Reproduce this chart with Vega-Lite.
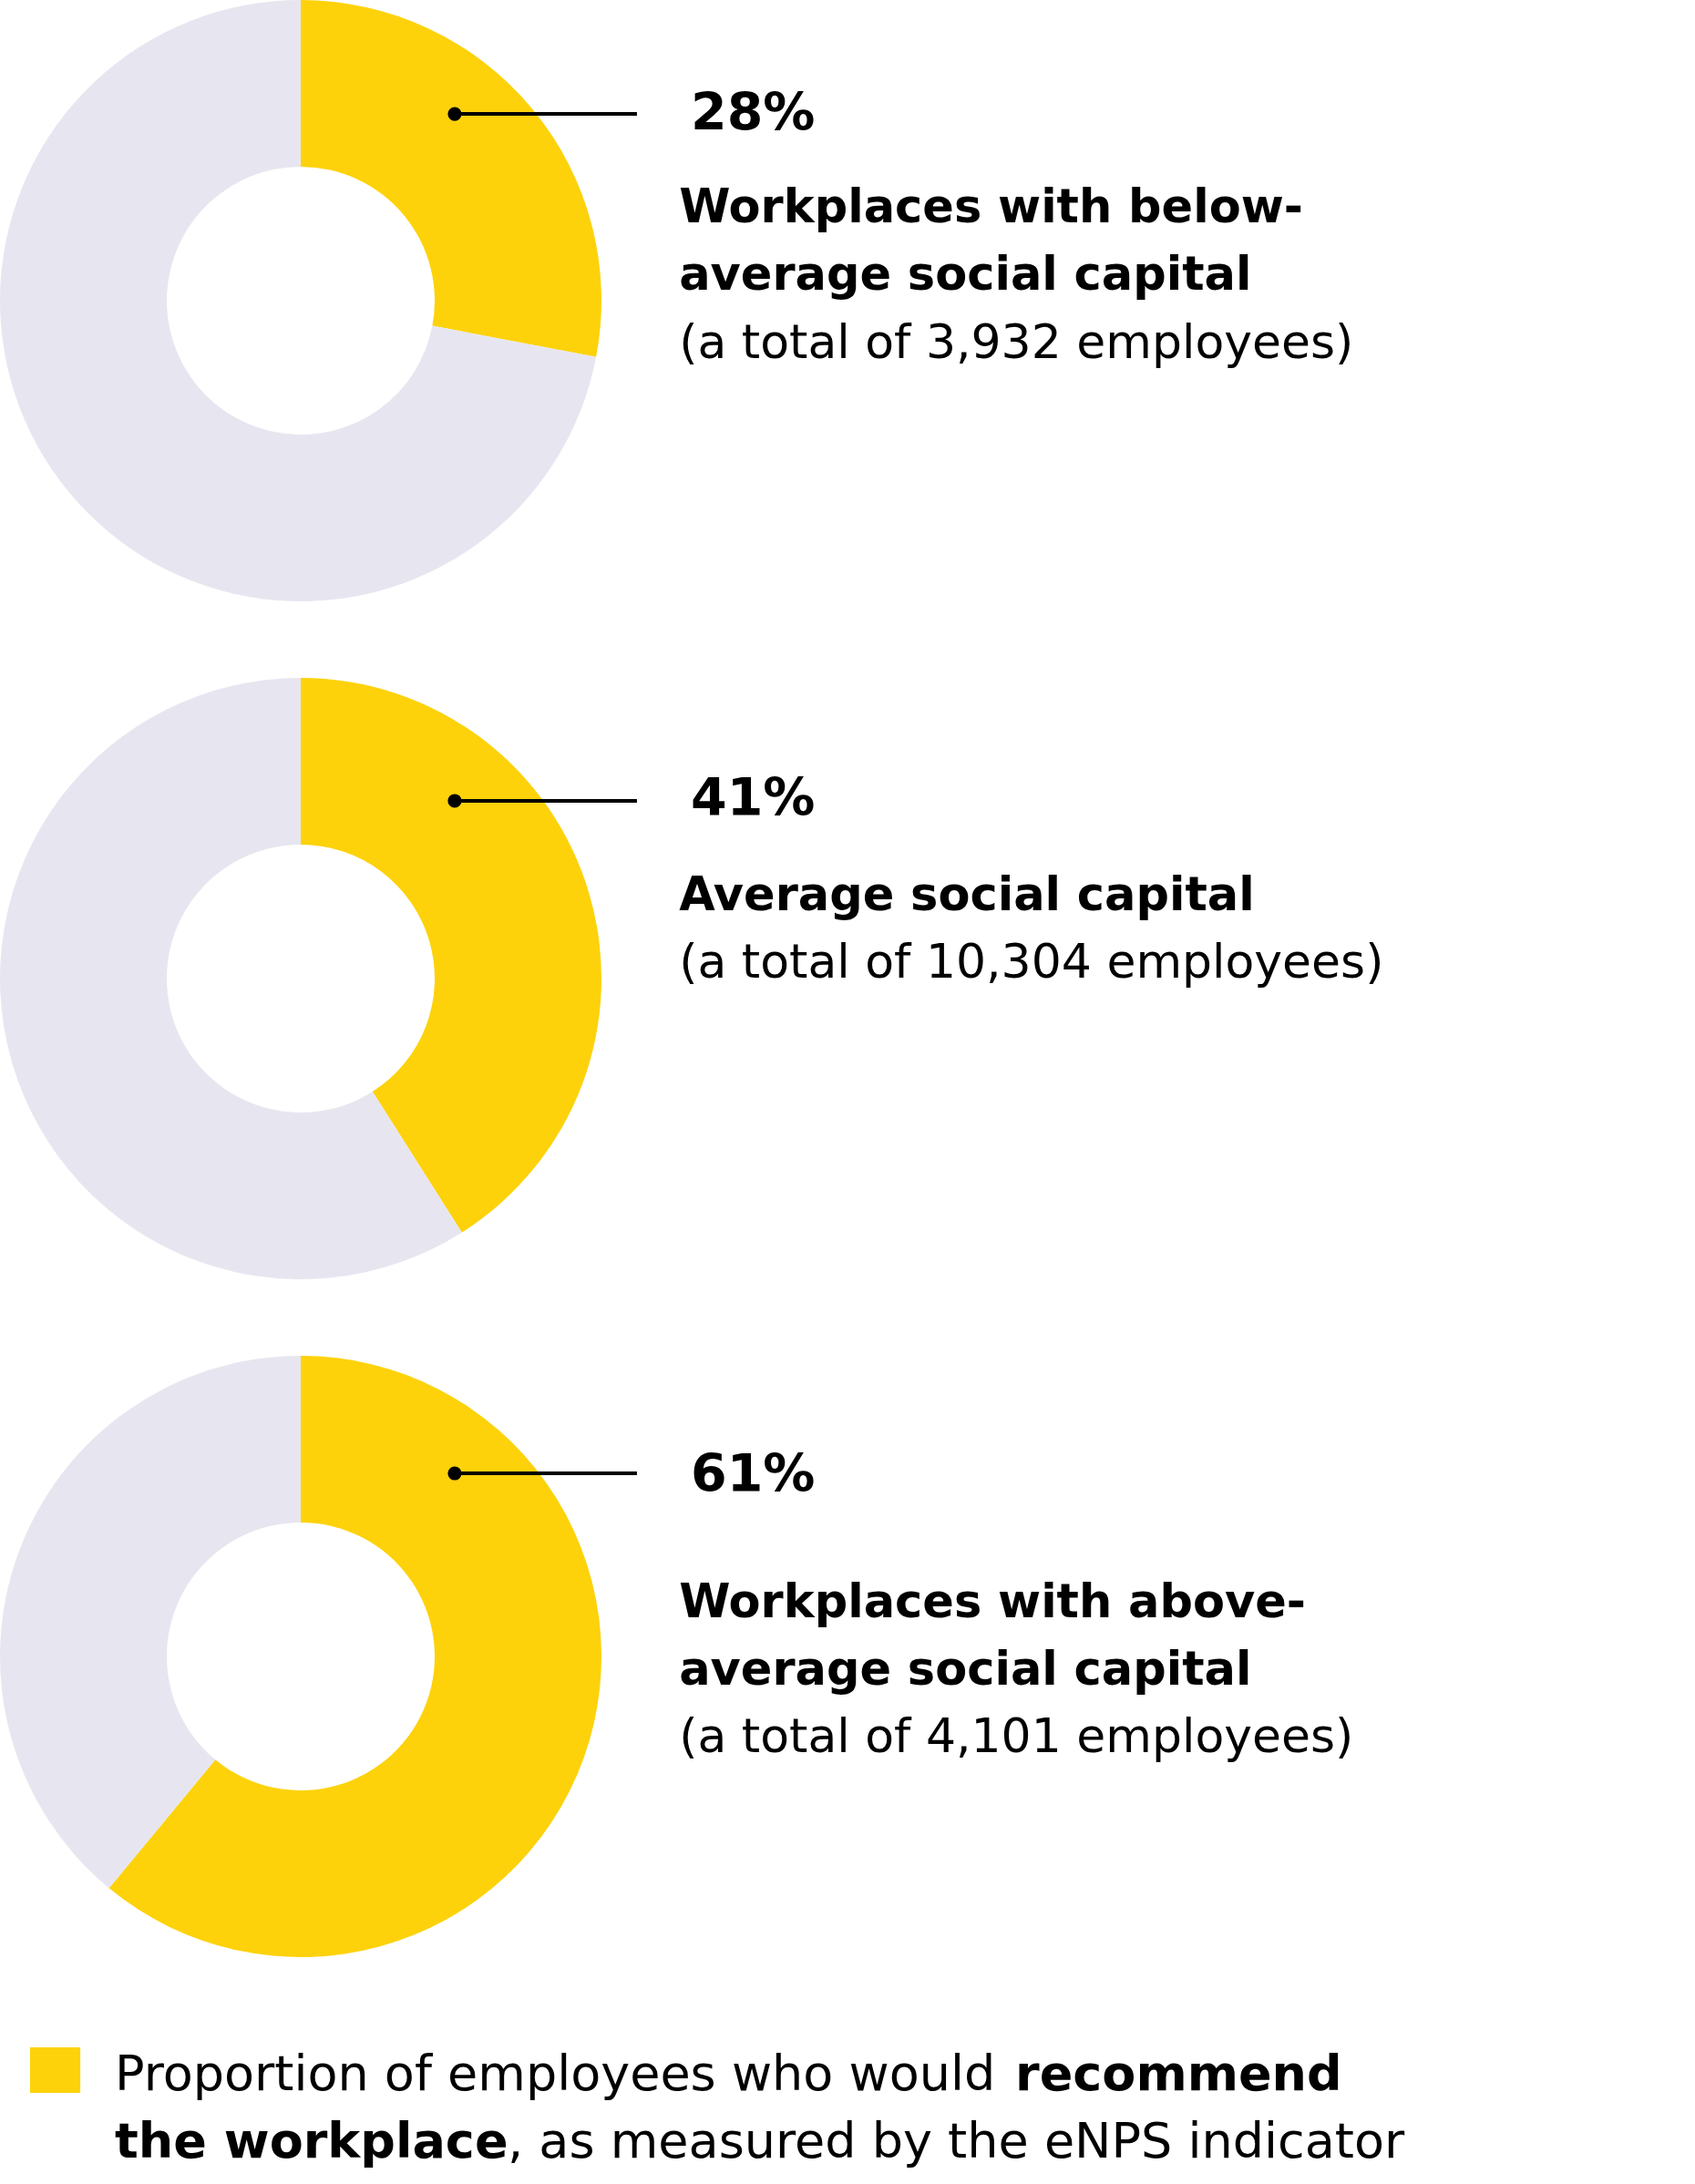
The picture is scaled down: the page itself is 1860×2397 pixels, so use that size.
{
  "$schema": "https://vega.github.io/schema/vega-lite/v6.json",
  "padding": 0,
  "background": "white",
  "spacing": 84,
  "datasets": {
    "donuts": [
      {"group": "below", "part": "recommend", "share": 28},
      {"group": "below", "part": "rest", "share": 72},
      {"group": "average", "part": "recommend", "share": 41},
      {"group": "average", "part": "rest", "share": 59},
      {"group": "above", "part": "recommend", "share": 61},
      {"group": "above", "part": "rest", "share": 39}
    ],
    "labels": [
      {"group": "below", "pct": "28%", "title": "Workplaces with below-\naverage social capital", "note": "(a total of 3,932 employees)"},
      {"group": "average", "pct": "41%", "title": "Average social capital", "note": "(a total of 10,304 employees)"},
      {"group": "above", "pct": "61%", "title": "Workplaces with above-\naverage social capital", "note": "(a total of 4,101 employees)"}
    ],
    "legend": [
      {"plain1": "Proportion of employees who would", "bold1": "recommend", "bold2": "the workplace", "plain2": ", as measured by the eNPS indicator"}
    ]
  },
  "vconcat": [
    {
      "width": 1650,
      "height": 660,
      "layer": [
        {
          "data": {"name": "donuts"},
          "transform": [{"filter": "datum.group === 'below'"}],
          "mark": {"type": "arc", "innerRadius": 147, "outerRadius": 330},
          "encoding": {
            "theta": {"field": "share", "type": "quantitative", "stack": true},
            "color": {"field": "part", "type": "nominal", "scale": {"domain": ["recommend", "rest"], "range": ["#FDD20A", "#E7E6F0"]}, "legend": null},
            "order": {"field": "part"},
            "x": {"datum": 0, "type": "quantitative", "scale": {"domain": [-1, 4], "nice": false, "zero": false}, "axis": null},
            "y": {"datum": 0, "type": "quantitative", "scale": {"domain": [-1, 1], "nice": false, "zero": false}, "axis": null}
          }
        },
        {
          "data": {"name": "labels"},
          "transform": [{"filter": "datum.group === 'below'"}],
          "mark": {"type": "rule", "color": "#000000", "strokeWidth": 4},
          "encoding": {
            "x": {"datum": 0.512, "type": "quantitative"},
            "x2": {"datum": 1.118},
            "y": {"datum": 0.621, "type": "quantitative"}
          }
        },
        {
          "data": {"name": "labels"},
          "transform": [{"filter": "datum.group === 'below'"}],
          "mark": {"type": "circle", "color": "#000000", "opacity": 1, "size": 230},
          "encoding": {
            "x": {"datum": 0.512, "type": "quantitative"},
            "y": {"datum": 0.621, "type": "quantitative"}
          }
        },
        {
          "data": {"name": "labels"},
          "transform": [{"filter": "datum.group === 'below'"}],
          "mark": {"type": "text", "align": "left", "baseline": "alphabetic", "font": "DejaVu Sans", "fontWeight": "bold", "fontSize": 57, "color": "#000000"},
          "encoding": {
            "x": {"datum": 1.297, "type": "quantitative"},
            "y": {"datum": 0.567, "type": "quantitative"},
            "text": {"field": "pct"}
          }
        },
        {
          "data": {"name": "labels"},
          "transform": [{"filter": "datum.group === 'below'"}],
          "mark": {"type": "text", "align": "left", "baseline": "alphabetic", "font": "DejaVu Sans", "fontWeight": "bold", "fontSize": 51, "lineBreak": "\n", "lineHeight": 74, "color": "#000000"},
          "encoding": {
            "x": {"datum": 1.258, "type": "quantitative"},
            "y": {"datum": 0.261, "type": "quantitative"},
            "text": {"field": "title"}
          }
        },
        {
          "data": {"name": "labels"},
          "transform": [{"filter": "datum.group === 'below'"}],
          "mark": {"type": "text", "align": "left", "baseline": "alphabetic", "font": "DejaVu Sans", "fontSize": 52, "color": "#000000"},
          "encoding": {
            "x": {"datum": 1.258, "type": "quantitative"},
            "y": {"datum": -0.191, "type": "quantitative"},
            "text": {"field": "note"}
          }
        }
      ]
    },
    {
      "width": 1650,
      "height": 660,
      "layer": [
        {
          "data": {"name": "donuts"},
          "transform": [{"filter": "datum.group === 'average'"}],
          "mark": {"type": "arc", "innerRadius": 147, "outerRadius": 330},
          "encoding": {
            "theta": {"field": "share", "type": "quantitative", "stack": true},
            "color": {"field": "part", "type": "nominal", "scale": {"domain": ["recommend", "rest"], "range": ["#FDD20A", "#E7E6F0"]}, "legend": null},
            "order": {"field": "part"},
            "x": {"datum": 0, "type": "quantitative", "scale": {"domain": [-1, 4], "nice": false, "zero": false}, "axis": null},
            "y": {"datum": 0, "type": "quantitative", "scale": {"domain": [-1, 1], "nice": false, "zero": false}, "axis": null}
          }
        },
        {
          "data": {"name": "labels"},
          "transform": [{"filter": "datum.group === 'average'"}],
          "mark": {"type": "rule", "color": "#000000", "strokeWidth": 4},
          "encoding": {
            "x": {"datum": 0.512, "type": "quantitative"},
            "x2": {"datum": 1.118},
            "y": {"datum": 0.591, "type": "quantitative"}
          }
        },
        {
          "data": {"name": "labels"},
          "transform": [{"filter": "datum.group === 'average'"}],
          "mark": {"type": "circle", "color": "#000000", "opacity": 1, "size": 230},
          "encoding": {
            "x": {"datum": 0.512, "type": "quantitative"},
            "y": {"datum": 0.591, "type": "quantitative"}
          }
        },
        {
          "data": {"name": "labels"},
          "transform": [{"filter": "datum.group === 'average'"}],
          "mark": {"type": "text", "align": "left", "baseline": "alphabetic", "font": "DejaVu Sans", "fontWeight": "bold", "fontSize": 57, "color": "#000000"},
          "encoding": {
            "x": {"datum": 1.297, "type": "quantitative"},
            "y": {"datum": 0.542, "type": "quantitative"},
            "text": {"field": "pct"}
          }
        },
        {
          "data": {"name": "labels"},
          "transform": [{"filter": "datum.group === 'average'"}],
          "mark": {"type": "text", "align": "left", "baseline": "alphabetic", "font": "DejaVu Sans", "fontWeight": "bold", "fontSize": 51, "lineBreak": "\n", "lineHeight": 74, "color": "#000000"},
          "encoding": {
            "x": {"datum": 1.258, "type": "quantitative"},
            "y": {"datum": 0.227, "type": "quantitative"},
            "text": {"field": "title"}
          }
        },
        {
          "data": {"name": "labels"},
          "transform": [{"filter": "datum.group === 'average'"}],
          "mark": {"type": "text", "align": "left", "baseline": "alphabetic", "font": "DejaVu Sans", "fontSize": 52, "color": "#000000"},
          "encoding": {
            "x": {"datum": 1.258, "type": "quantitative"},
            "y": {"datum": 0.003, "type": "quantitative"},
            "text": {"field": "note"}
          }
        }
      ]
    },
    {
      "width": 1650,
      "height": 660,
      "layer": [
        {
          "data": {"name": "donuts"},
          "transform": [{"filter": "datum.group === 'above'"}],
          "mark": {"type": "arc", "innerRadius": 147, "outerRadius": 330},
          "encoding": {
            "theta": {"field": "share", "type": "quantitative", "stack": true},
            "color": {"field": "part", "type": "nominal", "scale": {"domain": ["recommend", "rest"], "range": ["#FDD20A", "#E7E6F0"]}, "legend": null},
            "order": {"field": "part"},
            "x": {"datum": 0, "type": "quantitative", "scale": {"domain": [-1, 4], "nice": false, "zero": false}, "axis": null},
            "y": {"datum": 0, "type": "quantitative", "scale": {"domain": [-1, 1], "nice": false, "zero": false}, "axis": null}
          }
        },
        {
          "data": {"name": "labels"},
          "transform": [{"filter": "datum.group === 'above'"}],
          "mark": {"type": "rule", "color": "#000000", "strokeWidth": 4},
          "encoding": {
            "x": {"datum": 0.512, "type": "quantitative"},
            "x2": {"datum": 1.118},
            "y": {"datum": 0.609, "type": "quantitative"}
          }
        },
        {
          "data": {"name": "labels"},
          "transform": [{"filter": "datum.group === 'above'"}],
          "mark": {"type": "circle", "color": "#000000", "opacity": 1, "size": 230},
          "encoding": {
            "x": {"datum": 0.512, "type": "quantitative"},
            "y": {"datum": 0.609, "type": "quantitative"}
          }
        },
        {
          "data": {"name": "labels"},
          "transform": [{"filter": "datum.group === 'above'"}],
          "mark": {"type": "text", "align": "left", "baseline": "alphabetic", "font": "DejaVu Sans", "fontWeight": "bold", "fontSize": 57, "color": "#000000"},
          "encoding": {
            "x": {"datum": 1.297, "type": "quantitative"},
            "y": {"datum": 0.548, "type": "quantitative"},
            "text": {"field": "pct"}
          }
        },
        {
          "data": {"name": "labels"},
          "transform": [{"filter": "datum.group === 'above'"}],
          "mark": {"type": "text", "align": "left", "baseline": "alphabetic", "font": "DejaVu Sans", "fontWeight": "bold", "fontSize": 51, "lineBreak": "\n", "lineHeight": 74, "color": "#000000"},
          "encoding": {
            "x": {"datum": 1.258, "type": "quantitative"},
            "y": {"datum": 0.130, "type": "quantitative"},
            "text": {"field": "title"}
          }
        },
        {
          "data": {"name": "labels"},
          "transform": [{"filter": "datum.group === 'above'"}],
          "mark": {"type": "text", "align": "left", "baseline": "alphabetic", "font": "DejaVu Sans", "fontSize": 52, "color": "#000000"},
          "encoding": {
            "x": {"datum": 1.258, "type": "quantitative"},
            "y": {"datum": -0.318, "type": "quantitative"},
            "text": {"field": "note"}
          }
        }
      ]
    },
    {
      "width": 1650,
      "height": 165,
      "data": {"name": "legend"},
      "layer": [
        {
          "mark": {"type": "rect"},
          "encoding": {
            "x": {"datum": -0.9, "type": "quantitative", "scale": {"domain": [-1, 4], "nice": false, "zero": false}, "axis": null},
            "x2": {"datum": -0.733},
            "y": {"datum": 0.203, "type": "quantitative", "scale": {"domain": [0, 2.23], "nice": false, "zero": false, "reverse": true}, "axis": null},
            "y2": {"datum": 0.878},
            "color": {"datum": "recommend", "type": "nominal", "scale": {"domain": ["recommend", "rest"], "range": ["#FDD20A", "#E7E6F0"]}, "legend": null}
          }
        },
        {
          "mark": {"type": "text", "align": "left", "baseline": "alphabetic", "font": "DejaVu Sans", "fontSize": 54, "color": "#000000"},
          "encoding": {
            "x": {"datum": -0.618, "type": "quantitative"},
            "y": {"datum": 0.838, "type": "quantitative"},
            "text": {"field": "plain1"}
          }
        },
        {
          "mark": {"type": "text", "align": "left", "baseline": "alphabetic", "font": "DejaVu Sans", "fontWeight": "bold", "fontSize": 54, "color": "#000000"},
          "encoding": {
            "x": {"datum": 2.376, "type": "quantitative"},
            "y": {"datum": 0.838, "type": "quantitative"},
            "text": {"field": "bold1"}
          }
        },
        {
          "mark": {"type": "text", "align": "left", "baseline": "alphabetic", "font": "DejaVu Sans", "fontWeight": "bold", "fontSize": 54, "color": "#000000"},
          "encoding": {
            "x": {"datum": -0.618, "type": "quantitative"},
            "y": {"datum": 1.838, "type": "quantitative"},
            "text": {"field": "bold2"}
          }
        },
        {
          "mark": {"type": "text", "align": "left", "baseline": "alphabetic", "font": "DejaVu Sans", "fontSize": 54, "color": "#000000"},
          "encoding": {
            "x": {"datum": 0.688, "type": "quantitative"},
            "y": {"datum": 1.838, "type": "quantitative"},
            "text": {"field": "plain2"}
          }
        }
      ]
    }
  ],
  "config": {
    "view": {"stroke": null},
    "axis": {"disable": true}
  }
}
